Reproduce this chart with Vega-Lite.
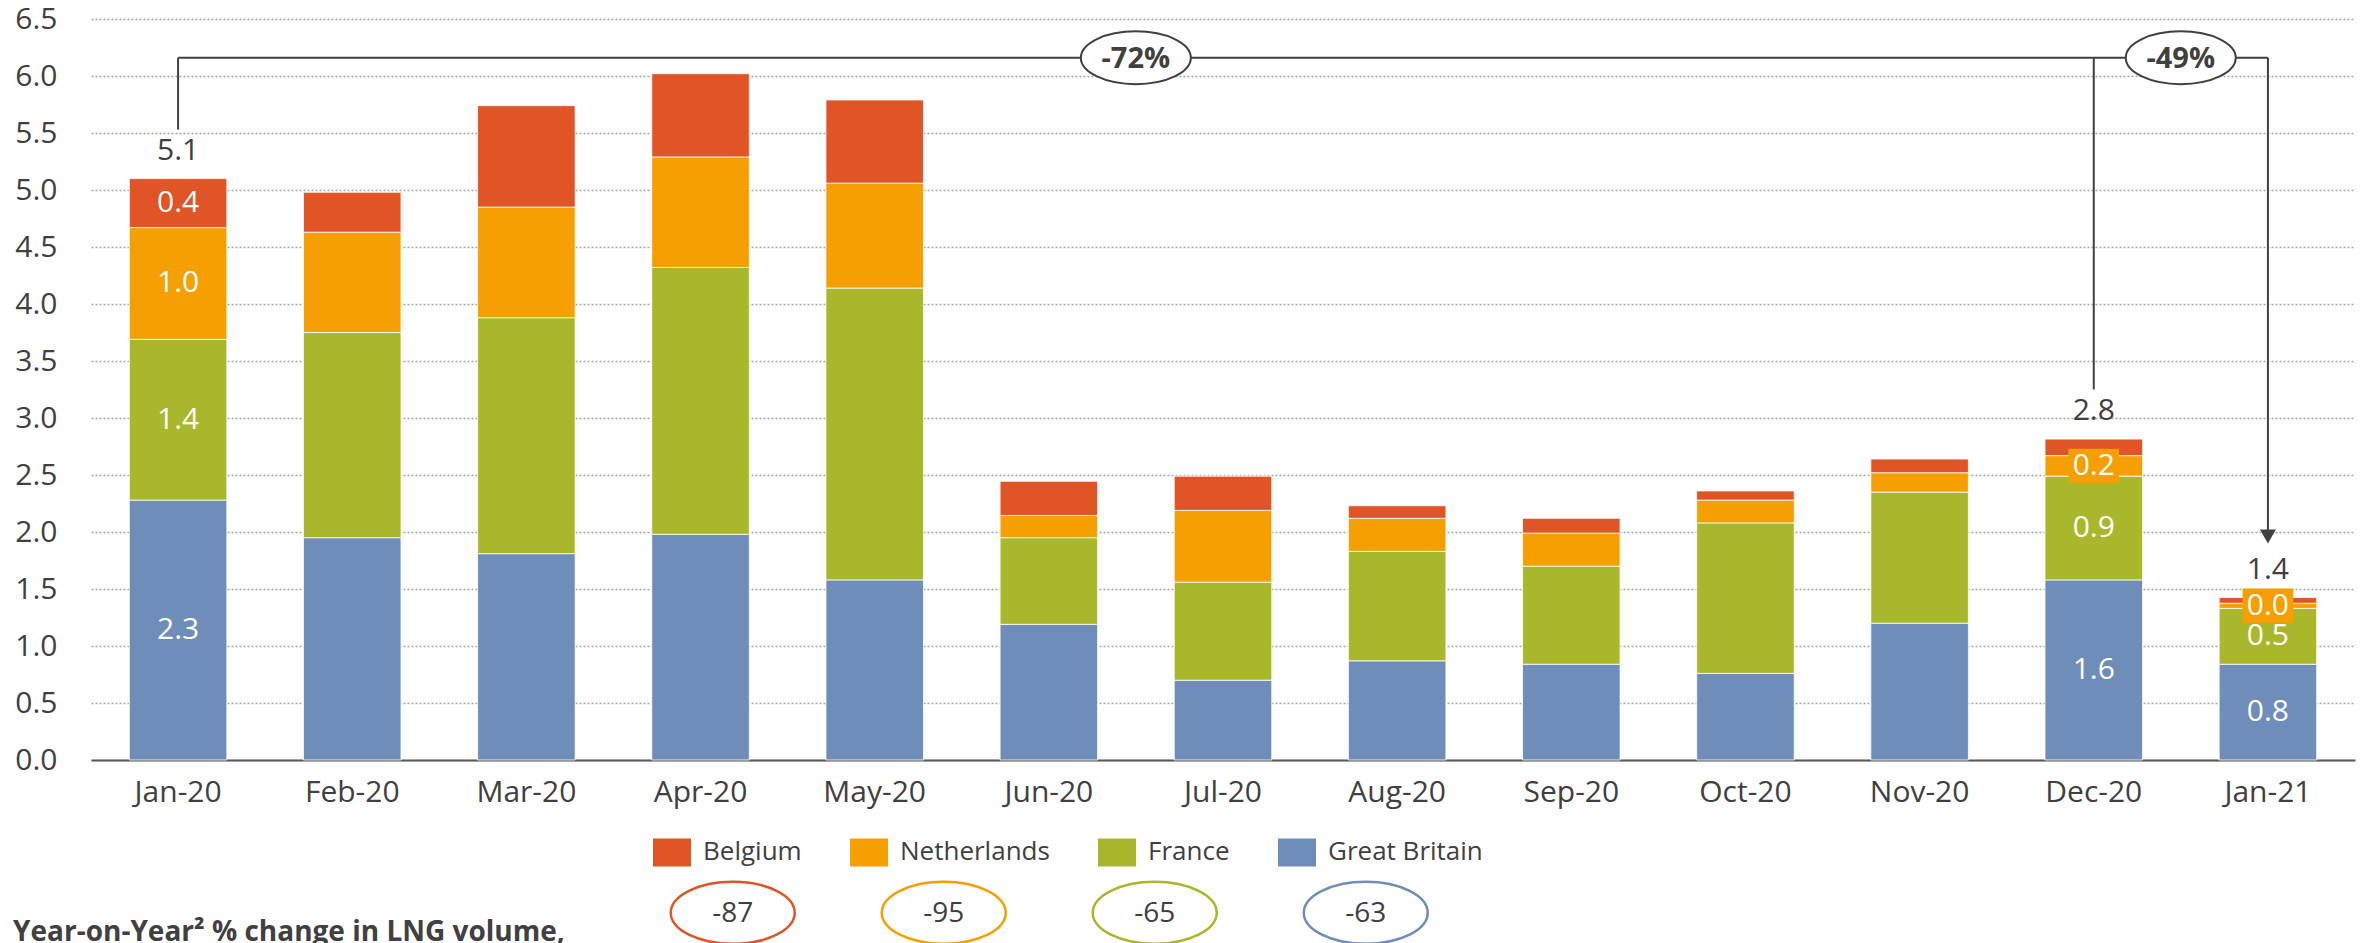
{
"$schema":"https://vega.github.io/schema/vega-lite/v6.json",
"width":2264,"height":741,
"autosize":{"type":"none"},
"padding":{"left":91,"top":19,"right":9,"bottom":183},
"background":"white",
"config":{
 "view":{"stroke":null},
 "font":"Open Sans",
 "axisX":{"labelFontSize":30,"labelColor":"#404040","domainColor":"#595959","domainWidth":2,"ticks":false,"tickSize":0,"labelPadding":17,"grid":false,"labelAngle":0},
 "axisY":{"labelFontSize":30,"labelColor":"#404040","domain":false,"ticks":false,"tickSize":0,"labelPadding":34,"grid":true,"gridColor":"#A6A6A6","gridDash":[2,2],"gridWidth":1.5}
},
"title":{"text":"Year-on-Year² % change in LNG volume,","orient":"bottom","anchor":"start","frame":"group","fontSize":28,"fontWeight":"bold","color":"#404040","font":"Open Sans","dx":-78,"offset":-8,"baseline":"alphabetic"},
"datasets":{
 "lng":[
  {"month":"Jan-20","country":"Great Britain","value":2.28},{"month":"Jan-20","country":"France","value":1.41},{"month":"Jan-20","country":"Netherlands","value":0.98},{"month":"Jan-20","country":"Belgium","value":0.43},
  {"month":"Feb-20","country":"Great Britain","value":1.95},{"month":"Feb-20","country":"France","value":1.80},{"month":"Feb-20","country":"Netherlands","value":0.88},{"month":"Feb-20","country":"Belgium","value":0.35},
  {"month":"Mar-20","country":"Great Britain","value":1.81},{"month":"Mar-20","country":"France","value":2.07},{"month":"Mar-20","country":"Netherlands","value":0.97},{"month":"Mar-20","country":"Belgium","value":0.89},
  {"month":"Apr-20","country":"Great Britain","value":1.98},{"month":"Apr-20","country":"France","value":2.34},{"month":"Apr-20","country":"Netherlands","value":0.97},{"month":"Apr-20","country":"Belgium","value":0.73},
  {"month":"May-20","country":"Great Britain","value":1.58},{"month":"May-20","country":"France","value":2.56},{"month":"May-20","country":"Netherlands","value":0.92},{"month":"May-20","country":"Belgium","value":0.73},
  {"month":"Jun-20","country":"Great Britain","value":1.19},{"month":"Jun-20","country":"France","value":0.76},{"month":"Jun-20","country":"Netherlands","value":0.195},{"month":"Jun-20","country":"Belgium","value":0.30},
  {"month":"Jul-20","country":"Great Britain","value":0.70},{"month":"Jul-20","country":"France","value":0.86},{"month":"Jul-20","country":"Netherlands","value":0.63},{"month":"Jul-20","country":"Belgium","value":0.30},
  {"month":"Aug-20","country":"Great Britain","value":0.87},{"month":"Aug-20","country":"France","value":0.96},{"month":"Aug-20","country":"Netherlands","value":0.29},{"month":"Aug-20","country":"Belgium","value":0.11},
  {"month":"Sep-20","country":"Great Britain","value":0.84},{"month":"Sep-20","country":"France","value":0.86},{"month":"Sep-20","country":"Netherlands","value":0.29},{"month":"Sep-20","country":"Belgium","value":0.13},
  {"month":"Oct-20","country":"Great Britain","value":0.76},{"month":"Oct-20","country":"France","value":1.32},{"month":"Oct-20","country":"Netherlands","value":0.20},{"month":"Oct-20","country":"Belgium","value":0.08},
  {"month":"Nov-20","country":"Great Britain","value":1.20},{"month":"Nov-20","country":"France","value":1.15},{"month":"Nov-20","country":"Netherlands","value":0.17},{"month":"Nov-20","country":"Belgium","value":0.12},
  {"month":"Dec-20","country":"Great Britain","value":1.58},{"month":"Dec-20","country":"France","value":0.91},{"month":"Dec-20","country":"Netherlands","value":0.18},{"month":"Dec-20","country":"Belgium","value":0.145},
  {"month":"Jan-21","country":"Great Britain","value":0.84},{"month":"Jan-21","country":"France","value":0.49},{"month":"Jan-21","country":"Netherlands","value":0.045},{"month":"Jan-21","country":"Belgium","value":0.05}
 ],
 "stems":[{"month":"Jan-20","bottom":5.53},{"month":"Dec-20","bottom":3.25},{"month":"Jan-21","bottom":1.92}],
 "span":[{"from":"Jan-20","to":"Jan-21"}],
 "arrow":[{"month":"Jan-21","tip":1.9}],
 "changes":[{"change":"-72%","month":"Jun-20"},{"change":"-49%","month":"Dec-20"}],
 "yoy":[{"country":"Belgium","change":"-87"},{"country":"Netherlands","change":"-95"},{"country":"France","change":"-65"},{"country":"Great Britain","change":"-63"}]
},
"layer":[
 {"layer":[
  {"data":{"name":"lng"},
   "transform":[{"calculate":"indexof(['Great Britain','France','Netherlands','Belgium'], datum.country)","as":"stackOrder"}],
   "layer":[
    {"mark":{"type":"bar","stroke":"white","strokeWidth":0.8},
     "encoding":{
      "x":{"field":"month","type":"nominal","scale":{"domain":["Jan-20","Feb-20","Mar-20","Apr-20","May-20","Jun-20","Jul-20","Aug-20","Sep-20","Oct-20","Nov-20","Dec-20","Jan-21"],"paddingInner":0.44,"paddingOuter":0.22},"title":null},
      "y":{"field":"value","type":"quantitative","stack":"zero","scale":{"domain":[0,6.5],"nice":false},"axis":{"values":[0,0.5,1,1.5,2,2.5,3,3.5,4,4.5,5,5.5,6,6.5],"format":".1f"},"title":null},
      "order":{"field":"stackOrder","type":"quantitative","sort":"ascending"},
      "color":{"field":"country","type":"nominal","scale":{"domain":["Belgium","Netherlands","France","Great Britain"],"range":["#E05426","#F59F00","#A8B82A","#6E8DB9"]},
       "legend":{"orient":"none","legendX":562,"legendY":814,"direction":"horizontal","columns":4,"title":null,"symbolType":"M-1,-0.737L1,-0.737L1,0.737L-1,0.737Z","symbolSize":1444,"symbolStrokeWidth":0,"symbolOpacity":1,"labelFontSize":26,"labelColor":"#404040","labelOffset":12,"columnPadding":48,"padding":0}}
     }},
    {"mark":{"type":"point","shape":"M-1,-0.68L1,-0.68L1,0.68L-1,0.68Z","size":2570,"filled":true,"strokeWidth":0},
     "encoding":{
      "x":{"field":"month","type":"nominal","title":null},
      "y":{"field":"value","type":"quantitative","stack":"zero","bandPosition":0.5,"title":null},
      "order":{"field":"stackOrder","type":"quantitative","sort":"ascending"},
      "color":{"field":"country","type":"nominal"},
      "opacity":{"condition":{"test":"datum.country == 'Netherlands' && (datum.month == 'Dec-20' || datum.month == 'Jan-21')","value":1},"value":0}
     }},
    {"mark":{"type":"text","fontSize":30,"baseline":"middle","align":"center","color":"#FFFFFF"},
     "encoding":{
      "x":{"field":"month","type":"nominal","title":null},
      "y":{"field":"value","type":"quantitative","stack":"zero","bandPosition":0.5,"title":null},
      "order":{"field":"stackOrder","type":"quantitative","sort":"ascending"},
      "detail":{"field":"country","type":"nominal"},
      "text":{"condition":{"test":"datum.month == 'Jan-20' || ((datum.month == 'Dec-20' || datum.month == 'Jan-21') && datum.country != 'Belgium')","field":"value","type":"quantitative","format":".1f"},"value":""}
     }}
   ]},
  {"data":{"name":"lng"},
   "transform":[{"filter":{"field":"month","oneOf":["Jan-20","Dec-20","Jan-21"]}},{"aggregate":[{"op":"sum","field":"value","as":"total"}],"groupby":["month"]}],
   "mark":{"type":"text","fontSize":30,"baseline":"bottom","align":"center","dy":-13,"color":"#404040"},
   "encoding":{
    "x":{"field":"month","type":"nominal","scale":{"domain":["Jan-20","Feb-20","Mar-20","Apr-20","May-20","Jun-20","Jul-20","Aug-20","Sep-20","Oct-20","Nov-20","Dec-20","Jan-21"]},"title":null},
    "y":{"field":"total","type":"quantitative","scale":{"domain":[0,6.5]},"title":null},
    "text":{"field":"total","type":"quantitative","format":".1f"}
   }},
  {"data":{"name":"stems"},
   "mark":{"type":"rule","color":"#404040","strokeWidth":2},
   "encoding":{
    "x":{"field":"month","type":"nominal","scale":{"domain":["Jan-20","Feb-20","Mar-20","Apr-20","May-20","Jun-20","Jul-20","Aug-20","Sep-20","Oct-20","Nov-20","Dec-20","Jan-21"]},"title":null},
    "y":{"field":"bottom","type":"quantitative","scale":{"domain":[0,6.5]},"title":null},
    "y2":{"datum":6.16}
   }},
  {"data":{"name":"span"},
   "mark":{"type":"rule","color":"#404040","strokeWidth":2},
   "encoding":{
    "x":{"field":"from","type":"nominal","scale":{"domain":["Jan-20","Feb-20","Mar-20","Apr-20","May-20","Jun-20","Jul-20","Aug-20","Sep-20","Oct-20","Nov-20","Dec-20","Jan-21"]},"title":null},
    "x2":{"field":"to"},
    "y":{"datum":6.16,"type":"quantitative","scale":{"domain":[0,6.5]},"title":null}
   }},
  {"data":{"name":"arrow"},
   "mark":{"type":"point","shape":"M-1,-1.75L1,-1.75L0,0Z","size":256,"filled":true,"color":"#404040","opacity":1,"strokeWidth":0},
   "encoding":{
    "x":{"field":"month","type":"nominal","scale":{"domain":["Jan-20","Feb-20","Mar-20","Apr-20","May-20","Jun-20","Jul-20","Aug-20","Sep-20","Oct-20","Nov-20","Dec-20","Jan-21"]},"title":null},
    "y":{"field":"tip","type":"quantitative","scale":{"domain":[0,6.5]},"title":null}
   }},
  {"data":{"name":"changes"},
   "mark":{"type":"point","shape":"M-1,0C-1,-0.265 -0.552,-0.48 0,-0.48C0.552,-0.48 1,-0.265 1,0C1,0.265 0.552,0.48 0,0.48C-0.552,0.48 -1,0.265 -1,0Z","size":12100,"filled":false,"fill":"white","fillOpacity":1,"stroke":"#404040","strokeWidth":2,"opacity":1,"xOffset":87},
   "encoding":{
    "x":{"field":"month","type":"nominal","scale":{"domain":["Jan-20","Feb-20","Mar-20","Apr-20","May-20","Jun-20","Jul-20","Aug-20","Sep-20","Oct-20","Nov-20","Dec-20","Jan-21"]},"title":null},
    "y":{"datum":6.16,"type":"quantitative","scale":{"domain":[0,6.5]},"title":null}
   }},
  {"data":{"name":"changes"},
   "mark":{"type":"text","fontSize":29,"fontWeight":"bold","color":"#404040","baseline":"middle","align":"center","xOffset":87,"dy":1},
   "encoding":{
    "x":{"field":"month","type":"nominal","scale":{"domain":["Jan-20","Feb-20","Mar-20","Apr-20","May-20","Jun-20","Jul-20","Aug-20","Sep-20","Oct-20","Nov-20","Dec-20","Jan-21"]},"title":null},
    "y":{"datum":6.16,"type":"quantitative","scale":{"domain":[0,6.5]},"title":null},
    "text":{"field":"change","type":"nominal"}
   }}
 ]},
 {"data":{"name":"yoy"},
  "layer":[
   {"mark":{"type":"point","shape":"M-1,0C-1,-0.276 -0.552,-0.5 0,-0.5C0.552,-0.5 1,-0.276 1,0C1,0.276 0.552,0.5 0,0.5C-0.552,0.5 -1,0.276 -1,0Z","size":15376,"filled":false,"fill":"white","fillOpacity":1,"strokeWidth":2.5,"opacity":1},
    "encoding":{
     "x":{"field":"country","type":"nominal","scale":{"type":"point","domain":["Belgium","Netherlands","France","Great Britain"],"range":[641.75,1274.75],"padding":0},"axis":null},
     "y":{"datum":-1.34,"type":"quantitative","scale":{"domain":[0,6.5]},"title":null},
     "stroke":{"field":"country","type":"nominal","scale":{"domain":["Belgium","Netherlands","France","Great Britain"],"range":["#E05426","#F59F00","#A8B82A","#6E8DB9"]},"legend":null}
    }},
   {"mark":{"type":"text","fontSize":28,"color":"#404040","baseline":"middle","align":"center","dy":1},
    "encoding":{
     "x":{"field":"country","type":"nominal","scale":{"type":"point","domain":["Belgium","Netherlands","France","Great Britain"],"range":[641.75,1274.75],"padding":0},"axis":null},
     "y":{"datum":-1.34,"type":"quantitative","scale":{"domain":[0,6.5]},"title":null},
     "text":{"field":"change","type":"nominal"}
    }}
  ]}
],
"resolve":{"scale":{"x":"independent"}}
}
